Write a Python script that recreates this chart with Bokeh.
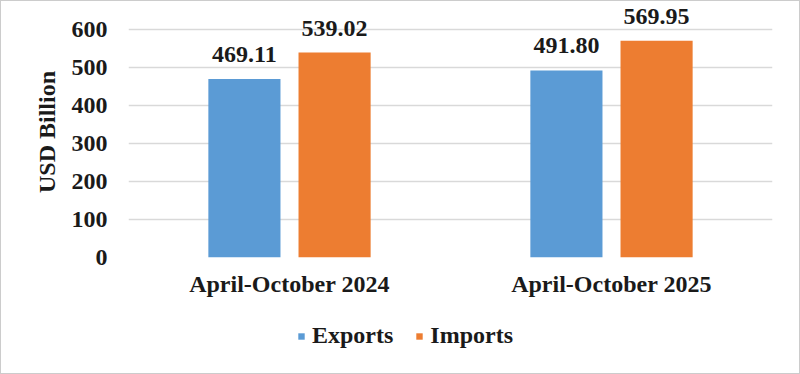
from bokeh.plotting import figure
from bokeh.layouts import column
from bokeh.models import FactorRange, Range1d, FixedTicker, ColumnDataSource, Legend, LegendItem
from bokeh.transform import dodge
from bokeh.embed import file_html
from bokeh.resources import INLINE

categories = ["April-October 2024", "April-October 2025"]
exports = [469.11, 491.80]
imports = [539.02, 569.95]
series_names = ["Exports", "Imports"]
y_ticks = [0, 100, 200, 300, 400, 500, 600]

FONT = "Liberation Serif"
TXT = "#1a1a1a"
BLUE = "#5B9BD5"
ORANGE = "#ED7D31"
FS = "24px"

src = ColumnDataSource(dict(
    cat=categories,
    exp=exports,
    imp=imports,
    exp_lbl=[f"{v:.2f}" for v in exports],
    imp_lbl=[f"{v:.2f}" for v in imports],
))

xr = FactorRange(*categories, range_padding=0)
p = figure(width=798, height=309, x_range=xr,
           y_range=Range1d(0, 660), output_backend="svg", toolbar_location=None,
           min_border_left=127, min_border_right=27, min_border_top=5, min_border_bottom=53)

r1 = p.vbar(x=dodge("cat", -0.14, range=xr), top="exp", width=0.224, source=src,
            fill_color=BLUE, line_color=None)
r2 = p.vbar(x=dodge("cat", 0.14, range=xr), top="imp", width=0.224, source=src,
            fill_color=ORANGE, line_color=None)

for off, col, lab in [(-0.14, "exp", "exp_lbl"), (0.14, "imp", "imp_lbl")]:
    p.text(x=dodge("cat", off, range=xr), y=col, text=lab, source=src,
           text_align="center", text_baseline="bottom", y_offset=-17,
           text_font={"value": FONT}, text_font_style="bold", text_font_size=FS,
           text_color=TXT)

p.yaxis.ticker = FixedTicker(ticks=y_ticks)
p.yaxis.axis_label = "USD Billion"
for ax in (p.xaxis, p.yaxis):
    ax.axis_line_color = None
    ax.major_tick_line_color = None
    ax.minor_tick_line_color = None
    ax.major_label_text_font = FONT
    ax.major_label_text_font_style = "bold"
    ax.major_label_text_font_size = FS
    ax.major_label_text_color = TXT
    ax.axis_label_text_font = FONT
    ax.axis_label_text_font_style = "bold"
    ax.axis_label_text_font_size = FS
    ax.axis_label_text_color = TXT
p.yaxis.major_label_standoff = 15
p.yaxis.axis_label_standoff = 9
p.xaxis.major_label_standoff = 7

p.xgrid.grid_line_color = None
p.ygrid.grid_line_color = "#d9d9d9"
p.ygrid.grid_line_width = 1.5
p.outline_line_color = None

# legend strip below the chart (proxy renderers are hidden; only their legend swatches show)
p2 = figure(width=798, height=63, x_range=xr, y_range=Range1d(-100, -37),
            x_axis_type=None, y_axis_type=None, output_backend="svg", toolbar_location=None,
            min_border=0)
p2.grid.visible = False
p2.outline_line_color = None
e1 = p2.vbar(x=dodge("cat", -0.14, range=xr), top="exp", width=0.224, source=src,
             fill_color=BLUE, line_color=None)
e2 = p2.vbar(x=dodge("cat", 0.14, range=xr), top="imp", width=0.224, source=src,
             fill_color=ORANGE, line_color=None)
e1.visible = False
e2.visible = False
legend = Legend(items=[LegendItem(label=series_names[0], renderers=[e1]),
                       LegendItem(label=series_names[1], renderers=[e2])],
                orientation="horizontal", location=(169, 24),
                glyph_width=8, glyph_height=8, label_standoff=7, spacing=22,
                padding=0, margin=0, border_line_color=None, background_fill_alpha=0,
                inactive_fill_alpha=0,
                label_text_font=FONT, label_text_font_style="bold",
                label_text_font_size=FS, label_text_color=TXT)
p2.add_layout(legend, "center")

layout = column(p, p2, spacing=0)
layout.styles = {"border": "1px solid #cccccc"}
open("out.html", "w").write(file_html(layout, INLINE))
